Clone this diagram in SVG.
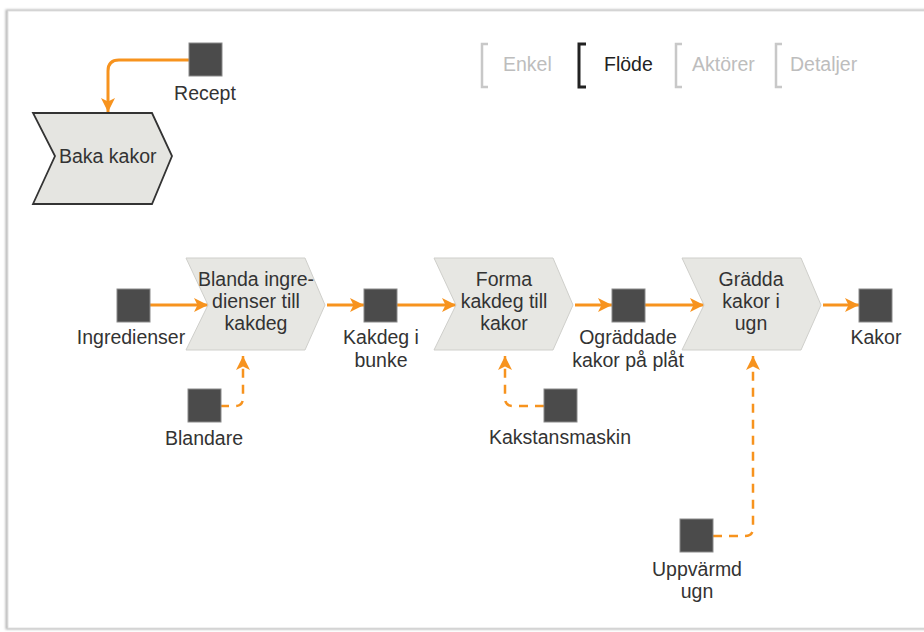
<svg xmlns="http://www.w3.org/2000/svg" width="924" height="632" viewBox="0 0 924 632">
<style>
text{font-family:"Liberation Sans",Arial,sans-serif;font-size:19.5px;fill:#333}
.lbl{text-anchor:middle}
.sq{fill:#4b4b4b;stroke:#8a8a8a;stroke-width:1}
.chev{fill:#e7e7e3;stroke:#cfcfcb;stroke-width:1}
.flow{fill:none;stroke:#f7931e;stroke-width:3}
.res{fill:none;stroke:#f7931e;stroke-width:2.5;stroke-dasharray:9 7}
.tab{fill:none;stroke:#c8c8c8;stroke-width:2.5}
.tabtxt{fill:#bdbdbd;font-size:19.5px}
</style>
<defs>
<marker id="ah" viewBox="0 0 14 14" refX="14" refY="7" markerWidth="14" markerHeight="14" markerUnits="userSpaceOnUse" orient="auto">
<path d="M0,0 L14,7 L0,14 L3.5,7 Z" fill="#f7931e"/>
</marker>
<filter id="blur" x="-50%" y="-5%" width="200%" height="110%"><feGaussianBlur stdDeviation="1.2"/></filter>
</defs>
<rect width="924" height="632" fill="#ffffff"/>
<g id="frame">
<rect x="7" y="11" width="940" height="617" fill="none" stroke="#b5b5b5" stroke-width="3" filter="url(#blur)"/>
<rect x="8" y="11" width="940" height="617" fill="#fff" stroke="#e2e2e2" stroke-width="1"/>
</g>
<g id="tabs">
<path class="tab" d="M488,44 H482 V87 H488"/>
<text class="tabtxt" x="503" y="71">Enkel</text>
<path class="tab" d="M586,44 H579 V87 H586" style="stroke:#222;stroke-width:3"/>
<text x="604" y="71" style="fill:#222">Flöde</text>
<path class="tab" d="M682,44 H676 V87 H682"/>
<text class="tabtxt" x="692" y="71">Aktörer</text>
<path class="tab" d="M782,44 H776 V87 H782"/>
<text class="tabtxt" x="790" y="71">Detaljer</text>
</g>
<g id="connectors">
<path class="flow" d="M190,60 H119 Q108,60 108,71 V112" marker-end="url(#ah)"/>
<path class="flow" d="M150,305 H208" marker-end="url(#ah)"/>
<path class="flow" d="M327,305 H364" marker-end="url(#ah)"/>
<path class="flow" d="M397,305 H456" marker-end="url(#ah)"/>
<path class="flow" d="M575,305 H612" marker-end="url(#ah)"/>
<path class="flow" d="M645,305 H704" marker-end="url(#ah)"/>
<path class="flow" d="M823,305 H859" marker-end="url(#ah)"/>
<path class="res" d="M220,406 H235 Q243,406 243,398 V356" marker-end="url(#ah)"/>
<path class="res" d="M544,406 H513 Q505,406 505,398 V356" marker-end="url(#ah)"/>
<path class="res" d="M713,536 H745 Q753,536 753,528 V356" marker-end="url(#ah)"/>
</g>
<g id="baka-kakor">
<path d="M33,113 H152 L172,156 L152,204 H33 L55,156 Z" fill="#e5e5e1" stroke="#333" stroke-width="1.8"/>
<text x="59" y="163">Baka kakor</text>
</g>
<g id="recept">
<rect class="sq" x="189" y="43" width="33" height="33"/>
<text class="lbl" x="205" y="100">Recept</text>
</g>
<g id="blanda">
<path class="chev" d="M186,258 H305 L325,305 L305,350 H186 L208,305 Z"/>
<text class="lbl" x="256" y="286">Blanda ingre-</text>
<text class="lbl" x="256" y="308">dienser till</text>
<text class="lbl" x="256" y="330">kakdeg</text>
</g>
<g id="forma">
<path class="chev" d="M434,258 H553 L573,305 L553,350 H434 L456,305 Z"/>
<text class="lbl" x="504" y="286">Forma</text>
<text class="lbl" x="504" y="308">kakdeg till</text>
<text class="lbl" x="504" y="330">kakor</text>
</g>
<g id="gradda">
<path class="chev" d="M682,258 H801 L821,305 L801,350 H682 L704,305 Z"/>
<text class="lbl" x="751" y="286">Grädda</text>
<text class="lbl" x="751" y="308">kakor i</text>
<text class="lbl" x="751" y="330">ugn</text>
</g>
<g id="ingredienser">
<rect class="sq" x="117" y="289" width="33" height="33"/>
<text class="lbl" x="131" y="344">Ingredienser</text>
</g>
<g id="kakdeg-i-bunke">
<rect class="sq" x="364" y="289" width="33" height="33"/>
<text class="lbl" x="381" y="344">Kakdeg i</text>
<text class="lbl" x="381" y="367">bunke</text>
</g>
<g id="ograddade">
<rect class="sq" x="612" y="289" width="33" height="33"/>
<text class="lbl" x="628" y="344">Ogräddade</text>
<text class="lbl" x="628" y="367">kakor på plåt</text>
</g>
<g id="kakor">
<rect class="sq" x="859" y="289" width="33" height="33"/>
<text class="lbl" x="876" y="344">Kakor</text>
</g>
<g id="blandare">
<rect class="sq" x="188" y="389" width="33" height="33"/>
<text class="lbl" x="204" y="445">Blandare</text>
</g>
<g id="kakstansmaskin">
<rect class="sq" x="544" y="389" width="33" height="33"/>
<text class="lbl" x="560" y="444">Kakstansmaskin</text>
</g>
<g id="uppvarmd-ugn">
<rect class="sq" x="680" y="519" width="33" height="33"/>
<text class="lbl" x="697" y="576">Uppvärmd</text>
<text class="lbl" x="697" y="598">ugn</text>
</g>
</svg>
